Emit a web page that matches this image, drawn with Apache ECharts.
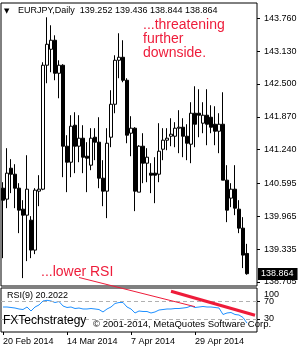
<!DOCTYPE html>
<html><head><meta charset="utf-8">
<script src="https://cdn.jsdelivr.net/npm/echarts@6/dist/echarts.min.js"></script>
<style>html,body{margin:0;padding:0;background:#fff}#c{width:300px;height:350px}</style>
</head><body><div id="c"></div>
<script>
const dates = ['20 Feb 2014','21 Feb 2014','24 Feb 2014','25 Feb 2014','26 Feb 2014','27 Feb 2014','28 Feb 2014',
'3 Mar 2014','4 Mar 2014','5 Mar 2014','6 Mar 2014','7 Mar 2014','10 Mar 2014','11 Mar 2014','12 Mar 2014','13 Mar 2014',
'14 Mar 2014','17 Mar 2014','18 Mar 2014','19 Mar 2014','20 Mar 2014','21 Mar 2014','24 Mar 2014','25 Mar 2014','26 Mar 2014','27 Mar 2014','28 Mar 2014','31 Mar 2014',
'1 Apr 2014','2 Apr 2014','3 Apr 2014','4 Apr 2014','7 Apr 2014','8 Apr 2014','9 Apr 2014','10 Apr 2014','11 Apr 2014','14 Apr 2014','15 Apr 2014','16 Apr 2014','17 Apr 2014','18 Apr 2014','21 Apr 2014','22 Apr 2014','23 Apr 2014','24 Apr 2014','25 Apr 2014','28 Apr 2014','29 Apr 2014','30 Apr 2014',
'1 May 2014','2 May 2014','5 May 2014','6 May 2014','7 May 2014','8 May 2014','9 May 2014','12 May 2014','13 May 2014','14 May 2014','15 May 2014','16 May 2014'];

const opens = [140.503,140.293,140.886,140.771,140.503,140.101,139.986,139.890,139.316,140.446,
140.484,142.860,143.166,143.339,142.706,142.860,141.308,141.001,141.710,141.308,
141.461,141.116,140.944,141.480,141.385,140.695,140.446,141.480,142.112,142.955,
143.013,142.572,141.557,141.653,140.427,141.308,140.982,140.791,140.791,140.771,
141.250,141.423,141.499,141.499,141.653,141.672,141.499,141.346,141.940,141.940,
141.749,141.902,141.863,141.729,141.595,141.729,140.657,140.312,140.484,140.101,
139.737,139.252];
const closes = [140.273,140.791,140.771,140.503,140.082,139.986,140.484,139.316,140.465,140.484,
142.860,143.262,143.339,142.706,142.860,141.308,141.001,141.691,141.308,141.461,
141.097,141.078,141.461,141.385,140.695,140.446,141.365,142.112,142.955,143.013,
142.572,141.519,141.653,140.446,141.308,140.982,141.097,140.752,140.752,141.212,
141.423,141.461,141.538,141.653,141.672,141.499,141.365,141.940,141.729,141.902,
141.902,141.729,141.672,141.595,141.729,140.657,140.082,140.484,140.120,139.737,
139.220,138.864];
const lows = [139.162,140.120,140.408,140.120,139.641,138.779,139.105,139.162,139.239,140.158,
140.465,142.515,142.726,142.572,142.227,140.714,140.427,140.714,140.791,141.001,
140.791,140.427,140.848,141.040,140.503,140.158,139.929,141.289,141.940,142.611,
142.534,141.365,141.116,140.063,140.427,140.599,140.618,140.408,140.216,140.618,
141.040,141.231,141.308,141.289,141.174,141.097,141.040,140.982,141.289,141.480,
141.557,141.327,141.557,141.327,141.174,140.657,139.852,140.139,139.986,139.641,
138.971,138.844];
const highs = [140.618,141.270,141.059,140.963,140.599,140.273,141.135,139.967,140.503,140.752,
142.917,143.779,143.626,143.434,142.955,142.880,141.519,141.902,141.959,141.902,
141.710,141.385,141.653,141.653,141.863,141.040,141.653,142.381,143.051,143.473,
143.339,142.611,141.883,141.672,141.327,141.557,141.270,140.982,141.097,141.749,
141.653,141.653,141.844,141.768,141.998,141.844,141.729,142.151,142.457,142.400,
142.151,142.400,142.093,142.074,141.940,142.342,140.944,140.599,140.944,140.273,
139.948,139.436];

const rsi = [56.8,56.8,55.7,54.5,52.3,51.1,56.8,47.7,56.8,61.4,
70.5,72.0,70.5,67.0,69.3,59.1,55.7,56.8,53.4,54.5,
52.3,52.3,53.4,52.3,51.1,45.5,52.3,56.8,64.8,67.0,
67.0,56.8,52.3,43.2,47.7,46.6,46.6,43.2,45.5,50.0,
51.1,52.3,52.3,53.4,53.4,54.5,55.7,59.1,55.7,56.8,
58.0,56.8,56.8,55.7,54.5,39.8,43.2,44.3,39.8,38.6,
33.0,20.2022];

const priceTicks = [143.760,143.130,142.500,141.870,141.240,140.595,139.965,139.335,138.705];
const rsiTicks = [70,30];
const rsiMaxTick = [100];
const rsiLevels = [70,30];
const trendThin = [[19,123.9],[48,57.5]];
const trendThick = [[42,92.5],[63,38.2]];

const FONT = 'Liberation Sans, Arial, sans-serif';
const RED = '#ee1c3a';
const last = dates.length - 1;
const candles = dates.map((d,i)=>[opens[i],closes[i],lows[i],highs[i]]);
const header = 'EURJPY,Daily  ' + [opens[last],highs[last],lows[last],closes[last]].map(v=>v.toFixed(3)).join(' ');

const chart = echarts.init(document.getElementById('c'), null, {renderer:'canvas'});
chart.setOption({
  animation:false,
  backgroundColor:'#fff',
  grid:[
    {left:1, top:3, width:256, height:283, show:true, borderColor:'#000', borderWidth:1, backgroundColor:'#fff'},
    {left:1, top:288, width:256, height:44, show:true, borderColor:'#000', borderWidth:1, backgroundColor:'#fff'}
  ],
  xAxis:[
    {type:'category', gridIndex:0, data:dates, max:63, show:false},
    {type:'category', gridIndex:1, data:dates, max:63,
     axisLine:{show:false},
     axisTick:{show:true, interval:15, alignWithLabel:true, length:3, lineStyle:{color:'#000'}},
     axisLabel:{interval:15, align:'left', margin:5, fontSize:9, color:'#000', fontFamily:FONT}}
  ],
  yAxis:[
    {type:'value', gridIndex:0, position:'right', min:138.628, max:144.053, scale:true,
     splitLine:{show:false}, axisLine:{show:false},
     axisTick:{show:true, length:3, customValues:priceTicks, lineStyle:{color:'#000'}},
     axisLabel:{customValues:priceTicks, margin:7, fontSize:9, color:'#000', fontFamily:FONT,
       showMinLabel:true, showMaxLabel:true, hideOverlap:false,
       formatter:v=>v.toFixed(3)}},
    {type:'value', gridIndex:1, position:'right', min:0, max:100,
     splitLine:{show:false}, axisLine:{show:false},
     axisTick:{show:true, length:3, customValues:rsiTicks, lineStyle:{color:'#000'}},
     axisLabel:{customValues:rsiTicks, margin:7, fontSize:9, color:'#000', fontFamily:FONT,
       showMinLabel:true, showMaxLabel:true, hideOverlap:false}},
    {type:'value', gridIndex:1, position:'right', offset:0, min:0, max:100,
     splitLine:{show:false}, axisLine:{show:false},
     axisTick:{show:false},
     axisLabel:{customValues:rsiMaxTick, margin:7, fontSize:9, color:'#000', fontFamily:FONT,
       showMinLabel:true, showMaxLabel:true, hideOverlap:false,
       formatter:v=>'{a|' + v + '}',
       rich:{a:{padding:[13,0,0,0], fontSize:9, color:'#000', fontFamily:FONT}}}}
  ],
  series:[
    {type:'candlestick', xAxisIndex:0, yAxisIndex:0, data:candles, barWidth:3, silent:true,
     itemStyle:{color:'#fff', color0:'#000', borderColor:'#000', borderColor0:'#000', borderWidth:1},
     markLine:{symbol:'none', silent:true, animation:false,
       lineStyle:{color:'rgba(0,0,0,0)', width:0},
       label:{show:true, position:'end', distance:1, formatter:closes[last].toFixed(3),
         backgroundColor:'#000', color:'#fff', fontSize:9, fontFamily:FONT, padding:[2,4,1,3]},
       data:[{yAxis:closes[last]}]}},
    {type:'line', xAxisIndex:1, yAxisIndex:1, data:rsi, symbol:'none', silent:true,
     lineStyle:{color:'#1e90ff', width:1},
     markLine:{symbol:'none', silent:true, animation:false,
       lineStyle:{color:'#b0b0b0', width:1, type:[4,3]}, label:{show:false},
       data:rsiLevels.map(v=>({yAxis:v}))}},
    {type:'line', xAxisIndex:1, yAxisIndex:1, data:trendThin, symbol:'none', clip:false, silent:true, z:10,
     lineStyle:{color:RED, width:1}},
    {type:'line', xAxisIndex:1, yAxisIndex:1, data:trendThick, symbol:'none', clip:false, silent:true, z:10,
     lineStyle:{color:RED, width:3}}
  ],
  graphic:[
    {type:'text', x:4, y:11, z:20, style:{text:'▼', fontSize:7, fill:'#000', fontFamily:'DejaVu Sans', verticalAlign:'middle'}},
    {type:'text', x:18, y:11, z:20, style:{text:header, fontSize:9, fill:'#000', fontFamily:FONT, verticalAlign:'middle'}},
    {type:'text', x:143, y:18, z:20, style:{text:'...threatening\nfurther\ndownside.', fontSize:14, lineHeight:14, fill:RED, fontFamily:FONT, verticalAlign:'top'}},
    {type:'text', x:41, y:272, z:20, style:{text:'...lower RSI', fontSize:14, fill:RED, fontFamily:FONT, verticalAlign:'middle'}},
    {type:'text', x:7, y:296, z:20, style:{text:'RSI(9) ' + rsi[last].toFixed(4), fontSize:9, fill:'#000', fontFamily:FONT, verticalAlign:'middle'}},
    {type:'text', x:3, y:320.5, z:20, style:{text:'FXTechstrategy', fontSize:12, fill:'#000', fontFamily:FONT, verticalAlign:'middle'}},
    {type:'text', x:93, y:324, z:20, style:{text:'© 2001-2014, MetaQuotes Software Corp.', fontSize:9.5, fill:'#000', fontFamily:FONT, verticalAlign:'middle'}}
  ]
});
</script></body></html>
